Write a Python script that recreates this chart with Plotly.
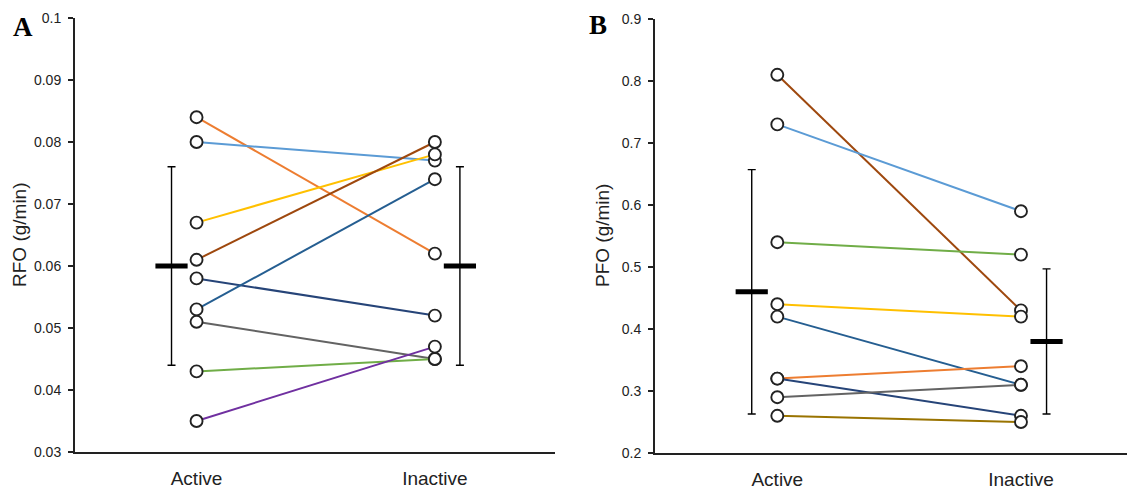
import plotly.graph_objects as go

# ---------------- data ----------------
conditions = ["Active", "Inactive"]

# Panel A: RFO (g/min)
rfo_colors = ["#ED7D31", "#5B9BD5", "#FFC000", "#9E480E", "#264478",
              "#255E91", "#636363", "#70AD47", "#7030A0"]
rfo_active = [0.084, 0.080, 0.067, 0.061, 0.058, 0.053, 0.051, 0.043, 0.035]
rfo_inactive = [0.062, 0.077, 0.078, 0.080, 0.052, 0.074, 0.045, 0.045, 0.047]
rfo_mean = [0.060, 0.060]
rfo_sd = [0.016, 0.016]

# Panel B: PFO (g/min)
pfo_colors = ["#9E480E", "#5B9BD5", "#70AD47", "#FFC000", "#255E91",
              "#ED7D31", "#264478", "#636363", "#997300"]
pfo_active = [0.81, 0.73, 0.54, 0.44, 0.42, 0.32, 0.32, 0.29, 0.26]
pfo_inactive = [0.43, 0.59, 0.52, 0.42, 0.31, 0.34, 0.26, 0.31, 0.25]
pfo_mean = [0.46, 0.38]
pfo_sd = [0.197, 0.117]

rfo_ticks = [0.03, 0.04, 0.05, 0.06, 0.07, 0.08, 0.09, 0.1]
pfo_ticks = [0.2, 0.3, 0.4, 0.5, 0.6, 0.7, 0.8, 0.9]

# ---------------- figure ----------------
W, H = 1135, 489
OFF = 8  # page body margin compensation (px)
fig = go.Figure()

ERR_OFFSET = 0.105

def add_panel(act, inact, colors, mean, sd, xa, ya):
    xs = list(range(len(conditions)))
    for a, b, c in zip(act, inact, colors):
        fig.add_trace(go.Scatter(
            x=xs, y=[a, b], mode="lines+markers", xaxis=xa, yaxis=ya,
            line=dict(color=c, width=2),
            marker=dict(symbol="circle", size=12, color="white",
                        line=dict(color="#222222", width=1.9)),
            showlegend=False, hoverinfo="skip"))
    ex = [xs[0] - ERR_OFFSET, xs[1] + ERR_OFFSET]
    fig.add_trace(go.Scatter(
        x=ex, y=mean, mode="markers", xaxis=xa, yaxis=ya,
        marker=dict(symbol="line-ew", size=23, color="black",
                    line=dict(color="black", width=5)),
        error_y=dict(type="data", array=sd, symmetric=True,
                     color="black", thickness=1.4, width=4),
        showlegend=False, hoverinfo="skip"))

add_panel(rfo_active, rfo_inactive, rfo_colors, rfo_mean, rfo_sd, "x", "y")
add_panel(pfo_active, pfo_inactive, pfo_colors, pfo_mean, pfo_sd, "x2", "y2")

tickfont = dict(family="Liberation Sans, Arial, sans-serif", size=14, color="#222222")
catfont = dict(family="Liberation Sans, Arial, sans-serif", size=19, color="#222222")

def px_x(v):
    return (v - OFF) / W

def px_y(v):
    return 1 - (v - OFF) / H

def xaxis_cfg(domain, rng, anchor):
    return dict(domain=domain, range=rng, anchor=anchor, automargin=False,
                showgrid=False, zeroline=False,
                showline=True, linecolor="#222222", linewidth=2,
                tickvals=[0, 1], ticktext=conditions, ticks="",
                tickfont=catfont, ticklabelstandoff=8, fixedrange=True)

def yaxis_cfg(domain, rng, ticks, anchor):
    return dict(domain=domain, range=rng, anchor=anchor, automargin=False,
                showgrid=False, zeroline=False, showline=True,
                linecolor="#222222", linewidth=2,
                tickvals=ticks, ticktext=[f"{t:g}" for t in ticks],
                ticks="outside", ticklen=5, tickwidth=1.5, tickcolor="#222222",
                tickfont=tickfont, ticklabelstandoff=4, fixedrange=True)

fig.update_layout(
    template="none",
    width=W, height=H,
    margin=dict(l=0, r=0, t=0, b=0, pad=0),
    paper_bgcolor="white", plot_bgcolor="white",
    xaxis=xaxis_cfg([px_x(75), px_x(555)], [-0.51, 1.504], "y"),
    yaxis=yaxis_cfg([px_y(452), px_y(18)], [0.03, 0.1], rfo_ticks, "x"),
    xaxis2=xaxis_cfg([px_x(655), px_x(1135)], [-0.502, 1.468], "y2"),
    yaxis2=yaxis_cfg([px_y(453), px_y(19)], [0.2, 0.9], pfo_ticks, "x2"),
)

titlefont = dict(family="Liberation Sans, Arial, sans-serif", size=19, color="#222222")
letterfont = dict(family="Liberation Serif, Times New Roman, serif", size=27, color="black")

fig.add_annotation(x=px_x(19), y=px_y(235), xref="paper", yref="paper",
                   text="RFO (g/min)", textangle=-90, showarrow=False,
                   font=titlefont, xanchor="center", yanchor="middle")
fig.add_annotation(x=px_x(602), y=px_y(236), xref="paper", yref="paper",
                   text="PFO (g/min)", textangle=-90, showarrow=False,
                   font=titlefont, xanchor="center", yanchor="middle")
fig.add_annotation(x=px_x(23), y=px_y(27), xref="paper", yref="paper",
                   text="<b>A</b>", showarrow=False, font=letterfont,
                   xanchor="center", yanchor="middle")
fig.add_annotation(x=px_x(598), y=px_y(25), xref="paper", yref="paper",
                   text="<b>B</b>", showarrow=False, font=letterfont,
                   xanchor="center", yanchor="middle")

fig.write_html("out.html")
